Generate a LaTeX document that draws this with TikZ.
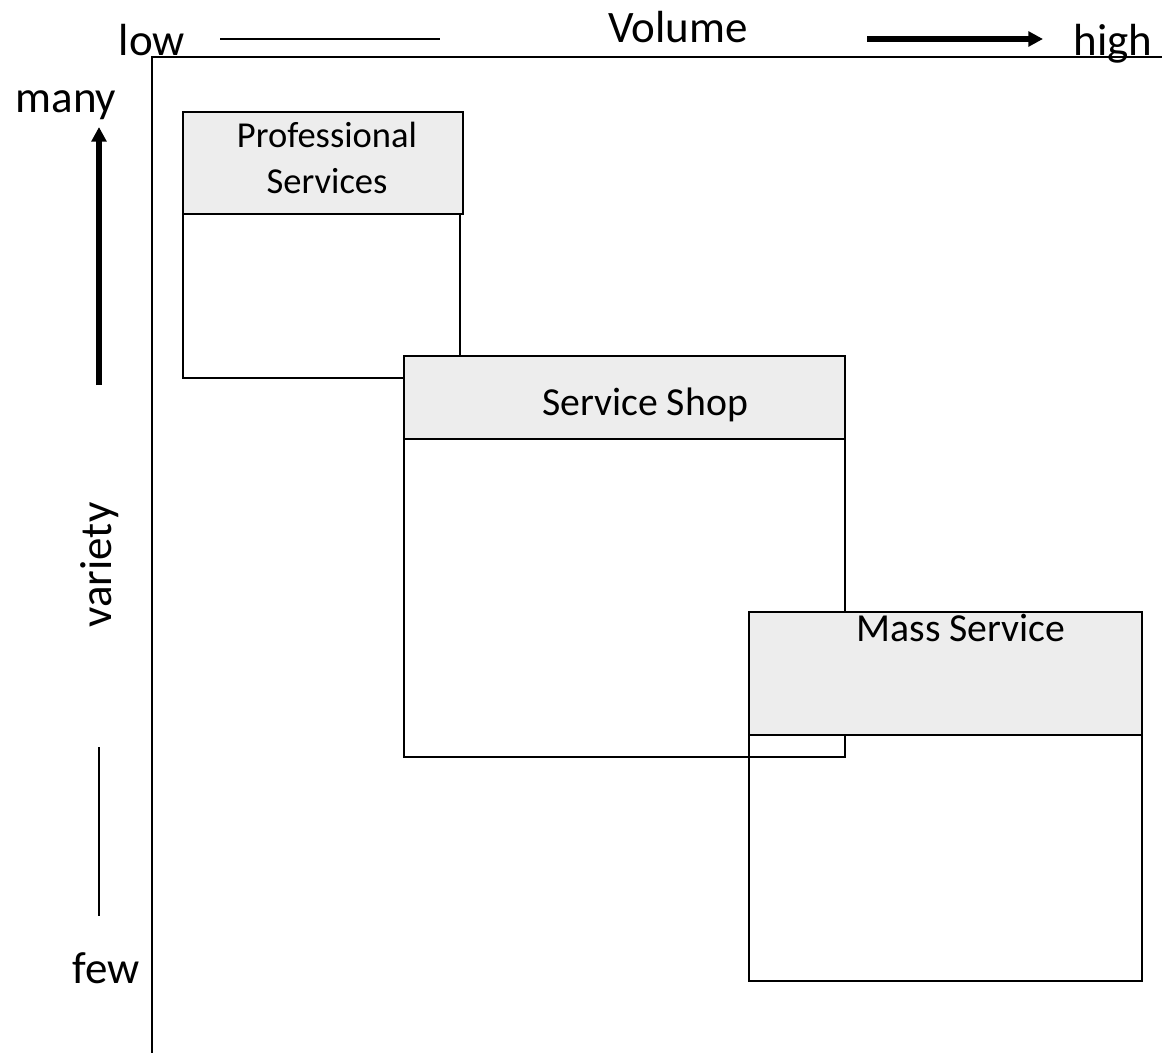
\documentclass[tikz,border=0pt]{standalone}
\usepackage{fontspec}
\setmainfont{Carlito}
\usetikzlibrary{arrows.meta}
\definecolor{hdrgray}{HTML}{EDEDED}
\tikzset{
  axisline/.style={line width=1.6pt},
  boxline/.style={line width=1.7pt},
  hdrbox/.style={boxline, fill=hdrgray},
  biglabel/.style={font=\fontsize{33.75pt}{40pt}\selectfont, inner sep=0pt, anchor=base},
  boxlabel/.style={font=\fontsize{29.8pt}{36pt}\selectfont, inner sep=0pt, anchor=base},
  smalllabel/.style={font=\fontsize{27.4pt}{34pt}\selectfont, inner sep=0pt, anchor=base},
  thinline/.style={line width=1.3pt},
  thickarrow/.style={line width=3.8pt, -{Triangle[length=11pt,width=11pt]}}
}
\begin{document}
\begin{tikzpicture}[x=0.75pt,y=-0.75pt]
\useasboundingbox (0,0) rectangle (1162,1053);
% axes
\coordinate (origin) at (152,57);
\coordinate (xend) at (1162,57);
\coordinate (yend) at (152,1053);
\draw[axisline] (xend) -- (origin) -- (yend);
% top labels
\node[biglabel] (low) at (152,55) {low};
\node[biglabel] (volume) at (678,42) {Volume};
\node[biglabel] (high) at (1113,55) {high};
\coordinate (lowA) at (220,39);
\coordinate (lowB) at (440,39);
\draw[thinline] (lowA) -- (lowB);
\coordinate (hiA) at (867,39);
\coordinate (hiB) at (1043,39);
\draw[thickarrow] (hiA) -- (hiB);
% left labels
\node[biglabel] (many) at (66,112) {many};
\node[biglabel] (few) at (106,983) {few};
\node[font=\fontsize{33.75pt}{40pt}\selectfont, inner sep=0pt, rotate=90] (variety) at (100,565) {variety};
\coordinate (upA) at (99,385);
\coordinate (upB) at (99,127);
\draw[thickarrow] (upA) -- (upB);
\coordinate (dnA) at (99,747);
\coordinate (dnB) at (99,916);
\draw[thinline] (dnA) -- (dnB);
% Professional Services
\draw[boxline] (183,214) rectangle (460,378);
\draw[hdrbox] (183,112) rectangle (463,214);
\node[smalllabel] (prof1) at (327,147) {Professional};
\node[smalllabel] (prof2) at (327,193) {Services};
% Service Shop
\draw[boxline] (404,439) rectangle (845,757);
\draw[hdrbox] (404,356) rectangle (845,439);
\node[boxlabel] (shop) at (645,415) {Service Shop};
% Mass Service
\draw[boxline] (749,735) rectangle (1142,981);
\draw[hdrbox] (749,612) rectangle (1142,735);
\node[boxlabel] (mass) at (961,641) {Mass Service};
\end{tikzpicture}
\end{document}
